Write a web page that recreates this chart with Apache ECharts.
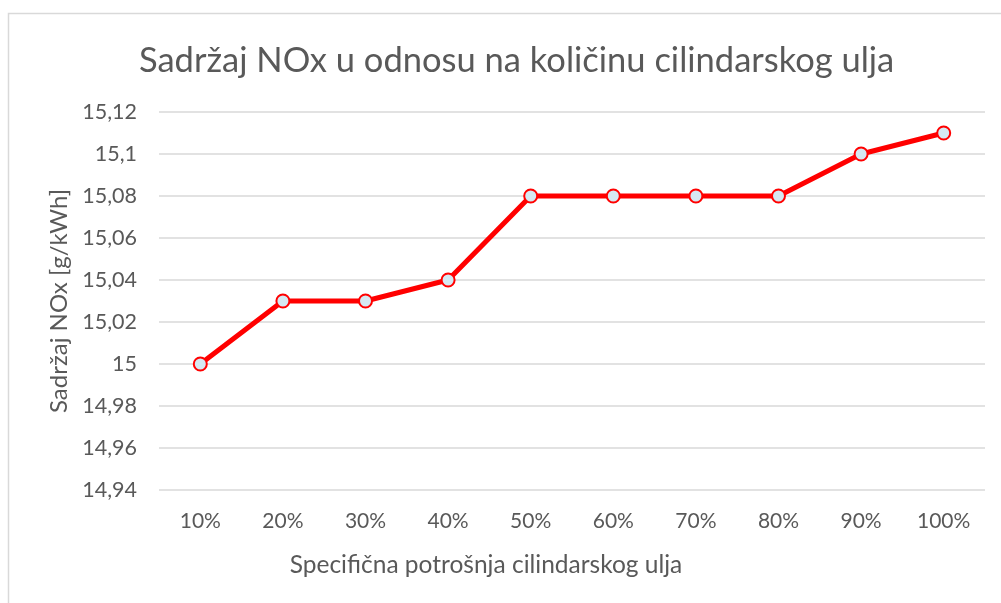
<!DOCTYPE html>
<html>
<head>
<meta charset="utf-8">
<script src="https://cdn.jsdelivr.net/npm/echarts@6/dist/echarts.min.js"></script>
<style>
  html, body { margin: 0; padding: 0; background: #fff; }
  #chart { width: 1001px; height: 603px; }
</style>
</head>
<body>
<div id="chart"></div>
<script>
const categories = ["10%", "20%", "30%", "40%", "50%", "60%", "70%", "80%", "90%", "100%"];
const noxValues = [15.0, 15.03, 15.03, 15.04, 15.08, 15.08, 15.08, 15.08, 15.1, 15.11];

const font = "Lato, 'Open Sans', sans-serif";
const textColor = "#595959";

const chart = echarts.init(document.getElementById("chart"));
const option = {
  backgroundColor: "#fff",
  animation: false,
  graphic: [
    {
      type: "rect",
      shape: { x: 8.5, y: 13.5, width: 1100, height: 700 },
      style: { fill: "none", stroke: "#d9d9d9", lineWidth: 1.5 },
      silent: true,
    },
  ],
  title: {
    text: "Sadržaj NOx u odnosu na količinu cilindarskog ulja",
    left: 134,
    top: 38,
    textStyle: { fontFamily: font, fontSize: 34.5, fontWeight: "normal", color: textColor },
  },
  grid: { left: 159, right: 16, top: 112, bottom: 113 },
  xAxis: {
    type: "category",
    data: categories,
    boundaryGap: true,
    axisLine: { show: false },
    axisTick: { show: false },
    axisLabel: { fontFamily: font, fontSize: 21, color: textColor, margin: 21 },
    name: "Specifična potrošnja cilindarskog ulja",
    nameLocation: "middle",
    nameGap: 63,
    // shift the name left so it sits where the original has it
    nameTextStyle: { fontFamily: font, fontSize: 24.5, color: textColor, padding: [0, 172, 0, 0] },
  },
  yAxis: {
    type: "value",
    min: 14.94,
    max: 15.12,
    interval: 0.02,
    axisLine: { show: false },
    axisTick: { show: false },
    splitLine: { lineStyle: { color: "#d9d9d9", width: 1.5 } },
    axisLabel: {
      fontFamily: font,
      fontSize: 21.5,
      color: textColor,
      margin: 22,
      formatter: (v) => String(parseFloat(v.toFixed(2))).replace(".", ","),
    },
    name: "Sadržaj NOx [g/kWh]",
    nameLocation: "middle",
    nameGap: 88,
    nameTextStyle: { fontFamily: font, fontSize: 24, color: textColor },
  },
  series: [
    {
      type: "line",
      data: noxValues,
      symbol: "circle",
      symbolSize: 13,
      lineStyle: { color: "#ff0000", width: 5 },
      itemStyle: { color: "#d6e9f2", borderColor: "#ff0000", borderWidth: 2 },
    },
  ],
};
chart.setOption(option);
</script>
</body>
</html>
